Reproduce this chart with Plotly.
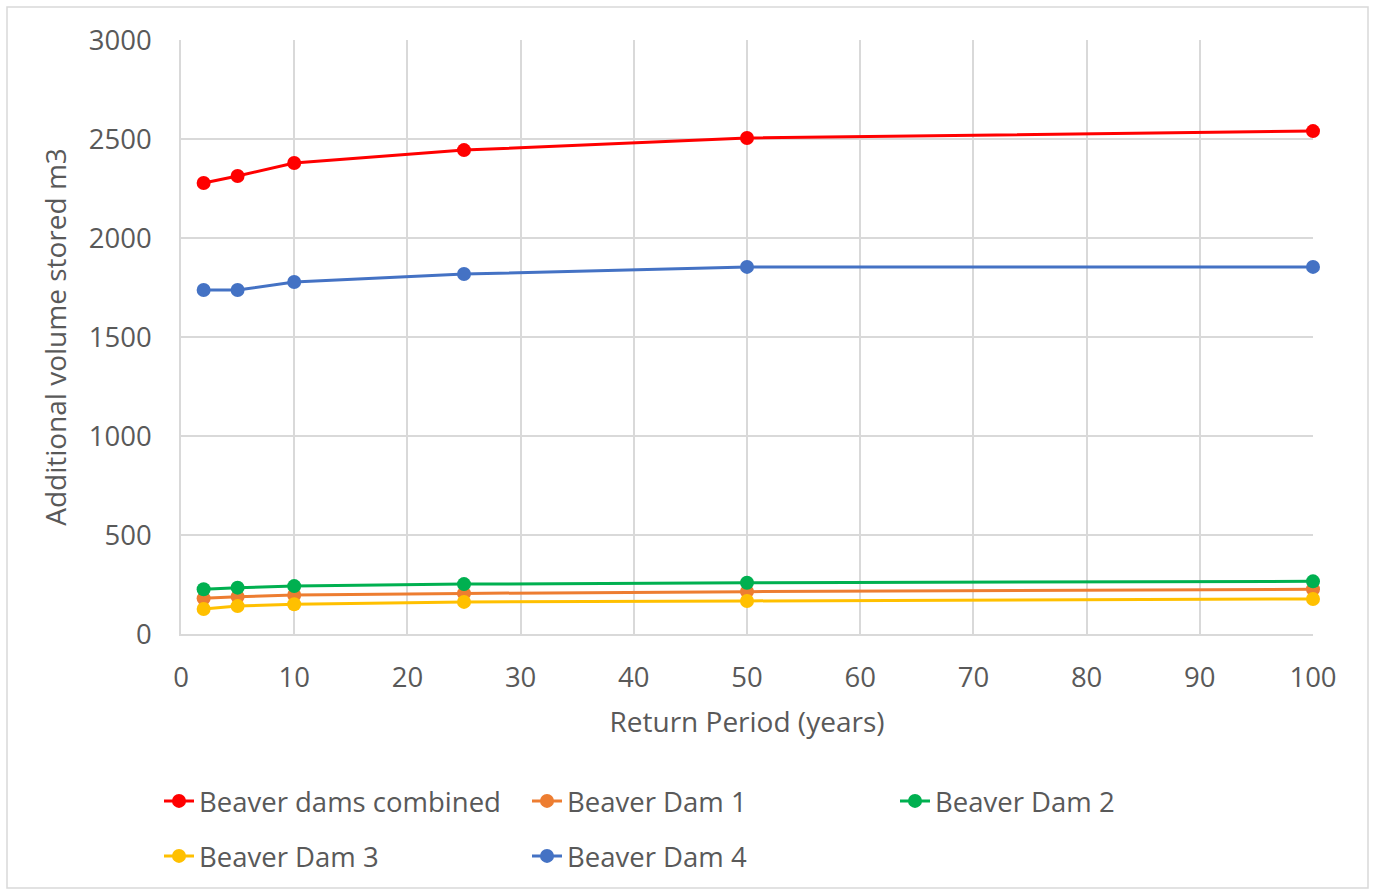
import plotly.graph_objects as go

# Return periods (years)
return_period = [2, 5, 10, 25, 50, 100]

# Additional volume stored (m3) per dam
combined = [2278, 2313, 2379, 2444, 2505, 2540]
dam1 = [180, 188, 197, 205, 214, 226]
dam2 = [226, 234, 242, 252, 259, 266]
dam3 = [126, 141, 150, 162, 167, 177]
dam4 = [1737, 1737, 1778, 1818, 1854, 1854]

series = [
    ("Beaver dams combined", combined, "#ff0000", "legend"),
    ("Beaver Dam 1", dam1, "#ed7d31", "legend"),
    ("Beaver Dam 2", dam2, "#00b050", "legend"),
    ("Beaver Dam 3", dam3, "#ffc000", "legend2"),
    ("Beaver Dam 4", dam4, "#4472c4", "legend2"),
]

FONT = "Open Sans, Liberation Sans, sans-serif"
TEXT = "#595959"
GRID = "#d9d9d9"

fig = go.Figure()
for name, vals, color, lg in series:
    fig.add_trace(go.Scatter(
        x=return_period, y=vals, name=name, mode="lines+markers",
        line=dict(color=color, width=3),
        marker=dict(color=color, size=14),
        cliponaxis=False,
        legend=lg,
    ))

W, H = 1375, 893
L, R, T, B = 181, 62, 40, 259
pw, ph = W - L - R, H - T - B

def px_x(px):
    return (px - L) / pw

def px_y(py):
    return (H - B - py) / ph

legend_common = dict(
    orientation="h", xanchor="left", yanchor="middle",
    font=dict(family=FONT, size=27.5, color=TEXT),
    entrywidth=323, entrywidthmode="pixels",
    itemwidth=30, bgcolor="rgba(0,0,0,0)",
)

fig.update_layout(
    width=W, height=H,
    margin=dict(l=L, r=R, t=T, b=B),
    paper_bgcolor="white", plot_bgcolor="white",
    font=dict(family=FONT, color=TEXT),
    legend=dict(x=px_x(159), y=px_y(801), **legend_common),
    legend2=dict(x=px_x(159), y=px_y(856), **legend_common),
    xaxis=dict(
        range=[0, 100], tick0=0, dtick=10,
        showgrid=True, gridcolor=GRID, gridwidth=1.5,
        showline=True, linecolor=GRID, linewidth=1.5,
        zeroline=False, ticks="", ticklabelstandoff=18,
        tickfont=dict(family=FONT, size=27.5, color=TEXT),
        title=dict(text="Return Period (years)", standoff=19,
                   font=dict(family=FONT, size=28, color=TEXT)),
    ),
    yaxis=dict(
        range=[0, 3000], tick0=0, dtick=500,
        showgrid=True, gridcolor=GRID, gridwidth=1.5,
        showline=True, linecolor=GRID, linewidth=1.5,
        zeroline=False, ticks="", ticklabelstandoff=22,
        tickfont=dict(family=FONT, size=27.5, color=TEXT),
        title=dict(text="Additional volume stored m3", standoff=14,
                   font=dict(family=FONT, size=28, color=TEXT)),
    ),
    shapes=[dict(
        type="rect", xref="paper", yref="paper",
        x0=px_x(7), x1=px_x(1368), y0=px_y(888), y1=px_y(7),
        line=dict(color=GRID, width=1.5), fillcolor="rgba(0,0,0,0)",
        layer="below",
    )],
)

fig.write_html("out.html")
